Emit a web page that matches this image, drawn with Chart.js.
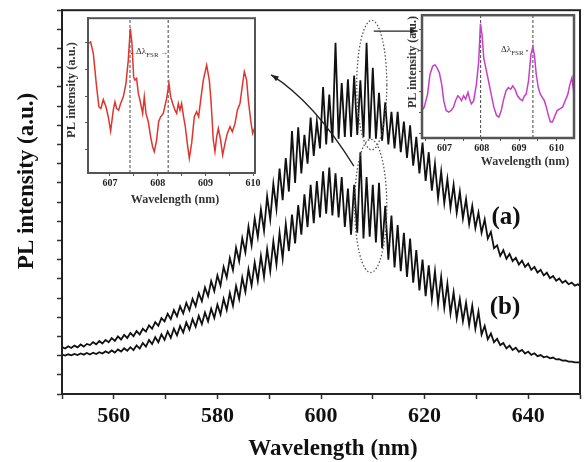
<!DOCTYPE html>
<html>
<head>
<meta charset="utf-8">
<script src="https://cdn.jsdelivr.net/npm/chart.js@4.4.0/dist/chart.umd.min.js"></script>
<style>
  body { margin: 0; background: #fff; }
  #wrap { position: relative; width: 584px; height: 462px; }
  #wrap canvas { position: absolute; }
</style>
</head>
<body>
<div id="wrap">
  <canvas id="main" width="584" height="462" style="left:0;top:0"></canvas>
  <canvas id="insetL" width="206" height="202" style="left:56px;top:8px"></canvas>
  <canvas id="insetR" width="186" height="170" style="left:398px;top:5px"></canvas>
</div>
<script>
// main spectra, wavelength in nm
const wavelength = [
  550, 550.6, 551.2, 551.8, 552.4, 553, 553.6, 554.2, 554.8, 555.4,
  556, 556.6, 557.2, 557.8, 558.4, 559, 559.6, 560.2, 560.8, 561.4,
  562, 562.6, 563.2, 563.8, 564.4, 565, 565.6, 566.2, 566.8, 567.4,
  568, 568.6, 569.2, 569.8, 570.4, 571, 571.6, 572.2, 572.8, 573.4,
  574, 574.6, 575.2, 575.8, 576.4, 577, 577.6, 578.2, 578.8, 579.4,
  580, 580.6, 581.2, 581.8, 582.4, 583, 583.6, 584.2, 584.8, 585.4,
  586, 586.6, 587.2, 587.8, 588.4, 589, 589.6, 590.2, 590.8, 591.4,
  592, 592.6, 593.2, 593.8, 594.4, 595, 595.6, 596.2, 596.8, 597.4,
  598, 598.6, 599.2, 599.8, 600.4, 601, 601.6, 602.2, 602.8, 603.4,
  604, 604.6, 605.2, 605.8, 606.4, 607, 607.6, 608.2, 608.8, 609.4,
  610, 610.6, 611.2, 611.8, 612.4, 613, 613.6, 614.2, 614.8, 615.4,
  616, 616.6, 617.2, 617.8, 618.4, 619, 619.6, 620.2, 620.8, 621.4,
  622, 622.6, 623.2, 623.8, 624.4, 625, 625.6, 626.2, 626.8, 627.4,
  628, 628.6, 629.2, 629.8, 630.4, 631, 631.6, 632.2, 632.8, 633.4,
  634, 634.6, 635.2, 635.8, 636.4, 637, 637.6, 638.2, 638.8, 639.4,
  640, 640.6, 641.2, 641.8, 642.4, 643, 643.6, 644.2, 644.8, 645.4,
  646, 646.6, 647.2, 647.8, 648.4, 649, 649.6, 650
];
const curveA = [
  2.45, 2.37, 2.49, 2.40, 2.52, 2.43, 2.58, 2.47, 2.61, 2.55,
  2.70, 2.59, 2.76, 2.63, 2.82, 2.70, 2.91, 2.77, 3.00, 2.84,
  3.08, 2.92, 3.18, 3.01, 3.28, 3.10, 3.40, 3.25, 3.58, 3.40,
  3.74, 3.55, 3.95, 3.78, 4.18, 3.90, 4.37, 4.05, 4.57, 4.20,
  4.75, 4.36, 4.95, 4.58, 5.25, 4.84, 5.55, 5.10, 5.88, 5.36,
  6.18, 5.65, 6.62, 6.07, 7.08, 6.45, 7.62, 6.92, 8.12, 7.38,
  8.72, 7.75, 9.15, 8.18, 9.62, 8.50, 10.3, 9.10, 10.95, 9.65,
  11.75, 10.1, 12.3, 10.55, 13.7, 11.0, 13.9, 11.5, 13.5, 12.0,
  14.4, 12.4, 14.2, 12.8, 16.0, 13.0, 15.6, 13.1, 18.3, 13.3,
  16.2, 13.4, 16.4, 13.4, 16.6, 13.5, 16.35, 13.4, 18.3, 13.3,
  17.0, 13.3, 15.7, 13.2, 15.2, 13.0, 14.7, 12.8, 14.7, 12.6,
  14.2, 12.3, 14.0, 11.9, 13.4, 11.5, 13.1, 11.1, 12.6, 10.6,
  12.0, 10.2, 11.6, 9.95, 11.2, 9.7, 10.9, 9.45, 10.55, 9.15,
  10.15, 8.85, 9.8, 8.65, 9.45, 8.4, 9.1, 8.1, 8.45, 7.6,
  7.75, 7.2, 7.5, 7.05, 7.3, 6.92, 7.1, 6.75, 6.95, 6.62,
  6.8, 6.47, 6.62, 6.33, 6.47, 6.18, 6.32, 6.03, 6.15, 5.9,
  6.02, 5.8, 5.9, 5.72, 5.8, 5.65, 5.72, 5.63
];
const curveB = [
  2.05, 2.00, 2.07, 2.02, 2.09, 2.03, 2.11, 2.05, 2.14, 2.06,
  2.15, 2.08, 2.18, 2.11, 2.22, 2.14, 2.27, 2.16, 2.32, 2.21,
  2.38, 2.25, 2.44, 2.29, 2.53, 2.37, 2.66, 2.47, 2.81, 2.60,
  2.96, 2.70, 3.11, 2.82, 3.26, 2.93, 3.41, 3.06, 3.55, 3.20,
  3.73, 3.35, 3.90, 3.50, 4.07, 3.64, 4.25, 3.79, 4.44, 3.96,
  4.66, 4.15, 4.96, 4.38, 5.26, 4.60, 5.62, 4.95, 6.07, 5.32,
  6.50, 5.65, 6.85, 5.90, 7.20, 6.10, 7.55, 6.40, 7.95, 6.75,
  8.40, 7.05, 8.85, 7.45, 9.35, 7.85, 9.85, 8.30, 10.4, 8.70,
  10.9, 8.90, 11.1, 9.20, 11.6, 9.40, 11.8, 9.30, 11.5, 9.20,
  11.3, 8.70, 10.7, 8.30, 10.9, 8.40, 12.6, 8.10, 11.3, 8.20,
  10.9, 7.90, 11.0, 7.60, 9.80, 7.00, 9.30, 6.60, 8.80, 6.40,
  8.40, 6.10, 8.10, 5.80, 7.50, 5.40, 7.00, 5.10, 6.70, 4.95,
  6.40, 4.70, 6.10, 4.50, 5.75, 4.20, 5.30, 3.95, 4.95, 3.80,
  4.75, 3.60, 4.60, 3.40, 4.30, 3.10, 3.55, 2.85, 3.15, 2.70,
  2.88, 2.55, 2.66, 2.38, 2.52, 2.29, 2.41, 2.20, 2.30, 2.11,
  2.21, 2.04, 2.12, 1.97, 2.03, 1.91, 1.96, 1.86, 1.90, 1.80,
  1.81, 1.74, 1.75, 1.69, 1.69, 1.65, 1.65, 1.63
];
const mainTickLabels = [560, 580, 600, 620, 640];

// left inset (red)
const redWl = [
  606.546, 606.595, 606.651, 606.72, 606.769, 606.811, 606.86, 606.916, 606.965, 607.014,
  607.07, 607.105, 607.14, 607.182, 607.224, 607.28, 607.335, 607.384, 607.426, 607.461,
  607.496, 607.524, 607.559, 607.594, 607.629, 607.685, 607.72, 607.755, 607.804, 607.853,
  607.894, 607.929, 607.978, 608.02, 608.062, 608.118, 608.188, 608.237, 608.272, 608.314,
  608.363, 608.398, 608.433, 608.468, 608.502, 608.537, 608.579, 608.621, 608.663, 608.712,
  608.768, 608.817, 608.859, 608.901, 608.957, 609.027, 609.082, 609.117, 609.166, 609.201,
  609.236, 609.271, 609.32, 609.362, 609.411, 609.46, 609.516, 609.565, 609.621, 609.67,
  609.725, 609.781, 609.816, 609.865, 609.9, 609.949, 609.991, 610.04
];
const redInt = [
  8.37, 8.47, 7.72, 5.57, 4.28, 4.17, 4.75, 4.28, 3.63, 2.71,
  4.06, 4.60, 4.17, 4.06, 4.49, 4.92, 5.78, 7.29, 9.33, 8.37,
  6.22, 6.00, 6.11, 5.14, 4.71, 3.85, 4.92, 3.85, 3.31, 2.34,
  1.70, 1.38, 2.13, 3.31, 3.63, 3.85, 4.82, 5.78, 4.92, 4.49,
  4.06, 3.85, 4.49, 4.06, 4.49, 3.74, 2.99, 1.91, 0.95, 1.91,
  3.63, 3.96, 3.63, 4.71, 6.00, 6.97, 6.00, 4.71, 2.13, 1.38,
  2.34, 2.88, 2.13, 1.16, 1.91, 2.56, 2.99, 2.67, 3.20, 4.06,
  4.49, 5.78, 6.54, 6.00, 4.71, 3.42, 2.56, 2.99
];
const redFsr = [607.42, 608.22];
const redTicks = [607, 607.5, 608, 608.5, 609, 609.5, 610];

// right inset (magenta)
const pinkWl = [
  606.396, 606.459, 606.55, 606.613, 606.685, 606.748, 606.802, 606.865, 606.928, 606.982,
  607.045, 607.117, 607.18, 607.243, 607.297, 607.36, 607.405, 607.459, 607.514, 607.568,
  607.631, 607.676, 607.721, 607.784, 607.856, 607.919, 607.964, 608.009, 608.054, 608.108,
  608.162, 608.216, 608.27, 608.324, 608.396, 608.459, 608.523, 608.577, 608.649, 608.712,
  608.775, 608.829, 608.892, 608.955, 609.027, 609.09, 609.144, 609.189, 609.252, 609.315,
  609.369, 609.414, 609.459, 609.514, 609.568, 609.622, 609.676, 609.73, 609.784, 609.838,
  609.892, 609.946, 610.018, 610.09, 610.162, 610.234, 610.306, 610.36, 610.414, 610.468
];
const pinkInt = [
  2.24, 2.51, 3.57, 5.17, 5.84, 5.97, 5.71, 5.31, 4.37, 3.04,
  2.24, 2.11, 2.24, 2.51, 3.04, 3.44, 3.31, 3.04, 3.44, 3.17,
  3.71, 3.17, 2.77, 3.04, 4.37, 6.24, 9.31, 8.37, 6.51, 5.71,
  4.91, 4.11, 3.31, 2.51, 1.84, 1.71, 2.24, 3.04, 3.84, 4.11,
  3.97, 4.24, 3.97, 3.44, 3.17, 3.04, 3.44, 3.57, 4.64, 6.77,
  7.44, 6.64, 5.17, 4.11, 3.57, 3.31, 3.04, 2.51, 1.84, 1.31,
  1.31, 1.71, 2.24, 2.37, 2.51, 3.04, 3.57, 4.37, 4.91, 3.57
];
const pinkFsr = [607.97, 609.37];
const pinkTicks = [606.5, 607, 607.5, 608, 608.5, 609, 609.5, 610];

const SERIF = "'Liberation Serif', 'Times New Roman', serif";
const xy = (xs, ys) => xs.map((x, i) => ({ x: x, y: ys[i] }));
const vline = (x) => [{ x: x, y: 0 }, { x: x, y: 10 }];

// text drawn on the canvas (titles, labels)
function textPlugin(items) {
  return {
    id: 'texts',
    afterDraw(chart) {
      const ctx = chart.ctx;
      items.forEach(t => {
        ctx.save();
        ctx.translate(t.x, t.y);
        if (t.rot) ctx.rotate(t.rot);
        ctx.font = t.font;
        ctx.fillStyle = t.color || '#111';
        ctx.textAlign = t.align || 'center';
        ctx.textBaseline = 'middle';
        ctx.fillText(t.text, 0, 0);
        ctx.restore();
      });
    }
  };
}

function framePlugin(color, width) {
  return {
    id: 'frame',
    afterDraw(chart) {
      const { ctx, chartArea: a } = chart;
      ctx.save();
      ctx.strokeStyle = color;
      ctx.lineWidth = width;
      ctx.strokeRect(a.left, a.top, a.right - a.left, a.bottom - a.top);
      ctx.restore();
    }
  };
}

// dotted ellipses and arrows, in data units
const ellipses = [
  { wl: 609.8, v: 16.1, dw: 2.9, dv: 3.37 },
  { wl: 609.6, v: 9.8, dw: 3.1, dv: 3.47 }
];
const arrowStraight = { from: [610.19, 18.91], to: [618.65, 18.91] };
const arrowCurved = { from: [606.35, 11.87], ctrl: [598.65, 15.23], to: [590.38, 16.63] };

function arrowHead(ctx, x, y, ang) {
  ctx.beginPath();
  ctx.moveTo(x, y);
  ctx.lineTo(x - 8 * Math.cos(ang - 0.35), y - 8 * Math.sin(ang - 0.35));
  ctx.lineTo(x - 8 * Math.cos(ang + 0.35), y - 8 * Math.sin(ang + 0.35));
  ctx.closePath();
  ctx.fill();
}

const marks = {
  id: 'marks',
  afterDatasetsDraw(chart) {
    const { ctx, scales: { x, y } } = chart;
    const P = (p) => [x.getPixelForValue(p[0]), y.getPixelForValue(p[1])];
    ctx.save();
    ctx.strokeStyle = '#555';
    ctx.lineWidth = 1.3;
    ctx.setLineDash([1.5, 2]);
    ellipses.forEach(e => {
      const cx = x.getPixelForValue(e.wl), cy = y.getPixelForValue(e.v);
      const rx = Math.abs(x.getPixelForValue(e.wl + e.dw) - cx);
      const ry = Math.abs(y.getPixelForValue(e.v + e.dv) - cy);
      ctx.beginPath();
      ctx.ellipse(cx, cy, rx, ry, 0, 0, Math.PI * 2);
      ctx.stroke();
    });
    ctx.setLineDash([]);
    ctx.strokeStyle = '#222';
    ctx.fillStyle = '#222';
    ctx.lineWidth = 1.3;
    let a = P(arrowStraight.from), b = P(arrowStraight.to);
    ctx.beginPath(); ctx.moveTo(a[0], a[1]); ctx.lineTo(b[0], b[1]); ctx.stroke();
    arrowHead(ctx, b[0], b[1], Math.atan2(b[1] - a[1], b[0] - a[0]));
    a = P(arrowCurved.from); const c = P(arrowCurved.ctrl); b = P(arrowCurved.to);
    ctx.beginPath(); ctx.moveTo(a[0], a[1]); ctx.quadraticCurveTo(c[0], c[1], b[0], b[1]); ctx.stroke();
    arrowHead(ctx, b[0], b[1], Math.atan2(b[1] - c[1], b[0] - c[0]));
    ctx.restore();
  }
};

new Chart(document.getElementById('main'), {
  type: 'line',
  data: {
    datasets: [
      { label: '(a)', data: xy(wavelength, curveA), borderColor: '#111', borderWidth: 1.8, pointRadius: 0 },
      { label: '(b)', data: xy(wavelength, curveB), borderColor: '#111', borderWidth: 1.8, pointRadius: 0 }
    ]
  },
  options: {
    responsive: false,
    animation: false,
    layout: { padding: { top: 8, right: 2, left: 0, bottom: 0 } },
    plugins: { legend: { display: false }, tooltip: { enabled: false } },
    scales: {
      x: {
        type: 'linear', min: 550, max: 650,
        afterFit: s => { s.height = 68; },
        ticks: {
          stepSize: 10, autoSkip: false, maxRotation: 0, padding: 4, color: '#111',
          font: { family: SERIF, size: 22, weight: 'bold' },
          callback: v => mainTickLabels.includes(Math.round(v)) && Math.abs(v - Math.round(v)) < 1e-6 ? String(Math.round(v)) : ''
        },
        grid: { drawOnChartArea: false, tickLength: 5, tickColor: '#333', tickWidth: 1.5 },
        border: { color: '#333', width: 2 }
      },
      y: {
        min: 0, max: 20,
        afterFit: s => { s.width = 62; },
        ticks: { stepSize: 1, callback: () => '' },
        grid: { drawOnChartArea: false, tickLength: 5, tickColor: '#333', tickWidth: 1.5 },
        border: { color: '#333', width: 2 }
      }
    }
  },
  plugins: [marks, framePlugin('#222', 2), textPlugin([
    { text: 'Wavelength (nm)', x: 333, y: 449, font: 'bold 23px ' + SERIF },
    { text: 'PL intensity (a.u.)', x: 27, y: 181, rot: -Math.PI / 2, font: 'bold 23px ' + SERIF },
    { text: '(a)', x: 506, y: 218, font: 'bold 25px ' + SERIF },
    { text: '(b)', x: 505, y: 308, font: 'bold 25px ' + SERIF }
  ])]
});

function insetOptions(xmin, xmax, ticksX, ticksY, yWidth, pad) {
  return {
    responsive: false,
    animation: false,
    layout: { padding: pad },
    plugins: { legend: { display: false }, tooltip: { enabled: false } },
    scales: {
      x: {
        type: 'linear', min: xmin, max: xmax,
        afterFit: s => { s.height = 37; },
        afterBuildTicks: s => { s.ticks = ticksX.map(v => ({ value: v })); },
        ticks: {
          autoSkip: false, maxRotation: 0, padding: 1, color: '#222',
          font: { family: SERIF, size: 10, weight: 'bold' },
          callback: v => Number.isInteger(v) ? String(v) : ''
        },
        grid: { drawOnChartArea: false, tickLength: 3, tickColor: '#555' },
        border: { color: '#555', width: 2 }
      },
      y: {
        min: 0, max: 10,
        afterFit: s => { s.width = yWidth; },
        afterBuildTicks: s => { s.ticks = ticksY.map(v => ({ value: v })); },
        ticks: { callback: () => '' },
        grid: { drawOnChartArea: false, tickLength: 3, tickColor: '#555' },
        border: { color: '#555', width: 2 }
      }
    }
  };
}

function fsrLabel(x, y) {
  return {
    id: 'fsr',
    afterDraw(chart) {
      const ctx = chart.ctx;
      ctx.save();
      ctx.fillStyle = '#333';
      ctx.textBaseline = 'middle';
      ctx.textAlign = 'left';
      ctx.font = '9px ' + SERIF;
      ctx.fillText('\u0394\u03bb', x, y);
      const w = ctx.measureText('\u0394\u03bb').width;
      ctx.font = '7px ' + SERIF;
      ctx.fillText('FSR', x + w, y + 3);
      ctx.restore();
    }
  };
}

new Chart(document.getElementById('insetL'), {
  type: 'line',
  data: {
    datasets: [
      { data: xy(redWl, redInt), borderColor: '#e0352d', borderWidth: 1.5, pointRadius: 0 },
      { data: vline(redFsr[0]), borderColor: '#444', borderWidth: 1, borderDash: [3, 2], pointRadius: 0 },
      { data: vline(redFsr[1]), borderColor: '#444', borderWidth: 1, borderDash: [3, 2], pointRadius: 0 }
    ]
  },
  options: insetOptions(606.54, 610.04, redTicks, [1.5, 3.23, 4.96, 6.69, 8.42], 32, { top: 10, right: 7, left: 0, bottom: 0 }),
  plugins: [framePlugin('#555', 2), fsrLabel(80, 44), textPlugin([
    { text: '\u2190', x: 77, y: 45, font: '8px ' + SERIF, color: '#333' },
    { text: '\u2192', x: 108, y: 45, font: '8px ' + SERIF, color: '#333' },
    { text: 'PL intensity (a.u.)', x: 16, y: 82, rot: -Math.PI / 2, font: 'bold 12.5px ' + SERIF, color: '#333' },
    { text: 'Wavelength (nm)', x: 119, y: 192, font: 'bold 12px ' + SERIF, color: '#333' }
  ])]
});

new Chart(document.getElementById('insetR'), {
  type: 'line',
  data: {
    datasets: [
      { data: xy(pinkWl, pinkInt), borderColor: '#c53fc8', borderWidth: 1.5, pointRadius: 0 },
      { data: vline(pinkFsr[0]), borderColor: '#444', borderWidth: 1, borderDash: [3, 2], pointRadius: 0 },
      { data: vline(pinkFsr[1]), borderColor: '#444', borderWidth: 1, borderDash: [3, 2], pointRadius: 0 }
    ]
  },
  options: insetOptions(606.4, 610.47, pinkTicks, [0.4, 2.08, 3.76, 5.44, 7.12, 8.8], 24, { top: 8, right: 10, left: 0, bottom: 0 }),
  plugins: [framePlugin('#555', 2.5), fsrLabel(103, 45), textPlugin([
    { text: '\u2022', x: 129, y: 46, font: '7px ' + SERIF, color: '#333' },
    { text: 'PL intensity (a.u.)', x: 15, y: 57, rot: -Math.PI / 2, font: 'bold 12px ' + SERIF, color: '#333' },
    { text: 'Wavelength (nm)', x: 127, y: 157, font: 'bold 12px ' + SERIF, color: '#333' }
  ])]
});
</script>
</body>
</html>
